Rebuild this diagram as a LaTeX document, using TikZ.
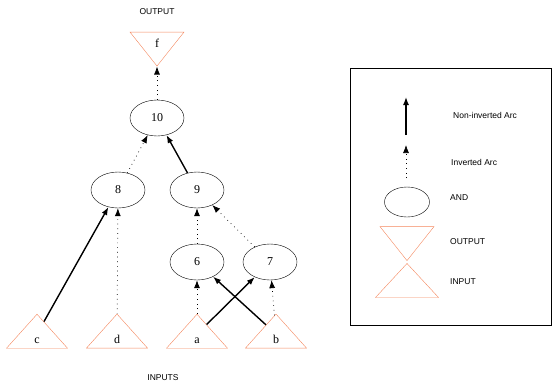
\documentclass[tikz,border=0pt]{standalone}
\usepackage{fontspec}
\setmainfont{Liberation Serif}
\setsansfont{Liberation Sans}
\usetikzlibrary{shapes.geometric, arrows.meta, positioning}
\definecolor{gateOrange}{HTML}{F4875E}

\begin{document}
\begin{tikzpicture}[x=1pt, y=-1pt,
  gate/.style={ellipse, draw, thin, minimum width=54pt, minimum height=36pt, inner sep=0pt, font=\fontsize{12}{14}\selectfont},
  inbox/.style={isosceles triangle, isosceles triangle stretches, shape border rotate=90, draw=gateOrange, thin, minimum width=61pt, minimum height=34pt, inner sep=0pt, text height=18pt, text depth=0pt, font=\fontsize{12}{14}\selectfont},
  outbox/.style={isosceles triangle, isosceles triangle stretches, shape border rotate=-90, draw=gateOrange, thin, minimum width=54pt, minimum height=34pt, inner sep=0pt, text height=10pt, text depth=6pt, font=\fontsize{12}{14}\selectfont},
  arc/.style={-{Latex[length=8pt,width=6pt]}, line width=1.4pt},
  inv/.style={-{Latex[length=8pt,width=6pt]}, line width=0.7pt, dash pattern=on 0.7pt off 4pt},
  lbl/.style={font=\sffamily\fontsize{8.5}{10}\selectfont, inner sep=0pt}
]
\useasboundingbox (0,0) rectangle (553,385);

% output and gates
\node[lbl] (outlbl) at (157,12) {OUTPUT};
\node[outbox] (f) at (157,46) {f};
\node[gate] (n10) at (157,118) {10};
\node[gate] (n8) at (118,190) {8};
\node[gate] (n9) at (197,190) {9};
\node[gate] (n6) at (197,262) {6};
\node[gate] (n7) at (270,262) {7};

% inputs
\node[inbox] (c) at (37,334) {c};
\node[inbox] (d) at (117,334) {d};
\node[inbox] (a) at (197,334) {a};
\node[inbox] (b) at (276,334) {b};
\node[lbl] (inlbl) at (163,378) {INPUTS};

\draw[inv] (n10) -- (f);
\draw[inv] (n8) -- (n10);
\draw[arc] (n9) -- (n10);
\draw[arc] (c) -- (n8);
\draw[inv] (d) -- (n8);
\draw[inv] (n6) -- (n9);
\draw[inv] (n7) -- (n9);
\draw[inv] (a) -- (n6);
\draw[arc] (a) -- (n7);
\draw[arc] (b) -- (n6);
\draw[inv] (b) -- (n7);

% legend
\node[draw, thin, minimum width=201pt, minimum height=257pt, inner sep=0pt] (legend) at (450.5,196.5) {};
\coordinate (solidA) at (406,135);
\coordinate (solidB) at (406,97);
\coordinate (dotA) at (406,178);
\coordinate (dotB) at (406,145);
\draw[arc] (solidA) -- (solidB);
\draw[inv] (dotA) -- (dotB);
\node[gate, minimum width=45pt, minimum height=30pt] (andkey) at (407,202) {};
\node[outbox] (outkey) at (407,241.5) {};
\node[inbox, minimum width=63pt] (inkey) at (407,282) {};
\node[lbl, anchor=west] at (453,115) {Non-inverted Arc};
\node[lbl, anchor=west] at (451,162) {Inverted Arc};
\node[lbl, anchor=west] at (450,198) {AND};
\node[lbl, anchor=west] at (450,242) {OUTPUT};
\node[lbl, anchor=west] at (450,282) {INPUT};
\end{tikzpicture}
\end{document}
